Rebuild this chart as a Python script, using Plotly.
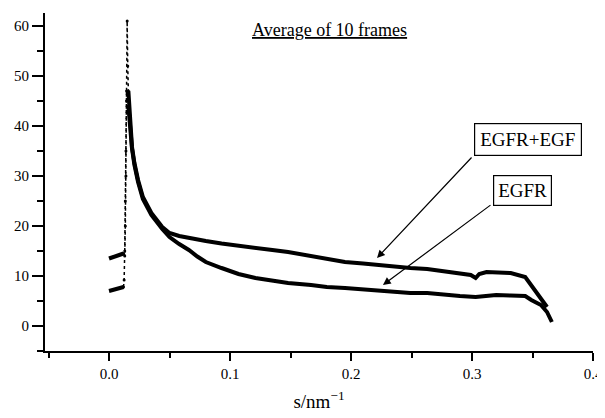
import plotly.graph_objects as go

# ---- data ----
s_egf = [0.000, 0.004, 0.008, 0.012, 0.0130, 0.0135, 0.0140, 0.0145, 0.0150,
         0.0155, 0.0160, 0.017, 0.018, 0.019, 0.021, 0.024, 0.028, 0.035, 0.044,
         0.050, 0.058, 0.066, 0.080, 0.093, 0.110, 0.121, 0.135, 0.148, 0.167,
         0.180, 0.195, 0.210, 0.222, 0.235, 0.249, 0.263, 0.277, 0.290, 0.299,
         0.303, 0.306, 0.312, 0.322, 0.332, 0.344, 0.347, 0.350, 0.357, 0.362]
i_egf = [13.5, 13.8, 14.2, 14.5, 14.0, 20.0, 30.0, 45.0, 61.0,
         52.0, 47.0, 42.0, 39.0, 35.8, 32.6, 29.2, 25.8, 22.6, 19.8,
         18.6, 18.0, 17.6, 17.0, 16.5, 15.9, 15.6, 15.2, 14.8, 14.0,
         13.4, 12.8, 12.5, 12.2, 11.9, 11.6, 11.4, 11.0, 10.6, 10.2,
         9.6, 10.4, 10.8, 10.8, 10.6, 9.8, 8.8, 7.6, 5.2, 3.8]

s_egfr = [0.000, 0.004, 0.008, 0.012, 0.0125, 0.0130, 0.0135, 0.0140, 0.0145,
          0.016, 0.017, 0.018, 0.019, 0.021, 0.024, 0.028, 0.035, 0.044,
          0.050, 0.058, 0.066, 0.073, 0.080, 0.093, 0.107, 0.121, 0.135, 0.148,
          0.167, 0.180, 0.195, 0.210, 0.222, 0.235, 0.249, 0.263, 0.277, 0.290,
          0.303, 0.312, 0.320, 0.332, 0.344, 0.349, 0.357, 0.362, 0.366]
i_egfr = [7.0, 7.2, 7.5, 7.8, 9.2, 15.0, 25.0, 35.0, 47.0,
          44.0, 41.0, 38.5, 35.5, 32.2, 28.8, 25.4, 22.2, 19.4,
          17.8, 16.4, 15.2, 13.9, 12.8, 11.6, 10.4, 9.6, 9.0, 8.6,
          8.2, 7.8, 7.6, 7.3, 7.2, 6.9, 6.6, 6.6, 6.2, 6.0,
          5.8, 6.0, 6.2, 6.1, 6.0, 5.2, 4.2, 2.8, 0.8]

x_ticks = [0.0, 0.1, 0.2, 0.3, 0.4]
x_tick_labels = ["0.0", "0.1", "0.2", "0.3", "0.4"]
y_ticks = [0, 10, 20, 30, 40, 50, 60]
y_tick_labels = ["0", "10", "20", "30", "40", "50", "60"]

title_text = "Average of 10 frames"
label_egf = "EGFR+EGF"
label_egfr = "EGFR"

# segment split indices: flat start | thin rise + peak | thick decay
egf_rise, egf_decay = 3, 10
egfr_rise, egfr_decay = 3, 9

FONT = "Liberation Serif, Times New Roman, serif"
fig = go.Figure()


def add_curve(s, v, i_rise, i_decay):
    thick = dict(color="black", width=4)
    thin = dict(color="black", width=1.5, dash="dot")
    fig.add_trace(go.Scatter(x=s[:i_rise + 1], y=v[:i_rise + 1], mode="lines",
                             line=thick, showlegend=False, hoverinfo="skip"))
    fig.add_trace(go.Scatter(x=s[i_rise:i_decay + 1], y=v[i_rise:i_decay + 1],
                             mode="lines+markers", line=thin,
                             marker=dict(size=3, color="black"),
                             showlegend=False, hoverinfo="skip"))
    fig.add_trace(go.Scatter(x=s[i_decay:], y=v[i_decay:], mode="lines",
                             line=thick, showlegend=False, hoverinfo="skip"))


add_curve(s_egf, i_egf, egf_rise, egf_decay)
add_curve(s_egfr, i_egfr, egfr_rise, egfr_decay)

# title inside plot
fig.add_annotation(x=0.1826, y=59.2, xref="x", yref="y", text="<u>" + title_text + "</u>",
                   showarrow=False, font=dict(family=FONT, size=18, color="black"))

# labelled boxes
fig.add_annotation(x=0.3463, y=37.3, xref="x", yref="y", text=label_egf, showarrow=False,
                   font=dict(family=FONT, size=19, color="black"),
                   bordercolor="black", borderwidth=1.2, borderpad=5, bgcolor="white")
fig.add_annotation(x=0.342, y=27.2, xref="x", yref="y", text=label_egfr, showarrow=False,
                   font=dict(family=FONT, size=19, color="black"),
                   bordercolor="black", borderwidth=1.2, borderpad=4, bgcolor="white")

# arrows (from box corners to curves)
fig.add_annotation(x=0.2215, y=13.6, ax=0.3008, ay=34.0, xref="x", yref="y",
                   axref="x", ayref="y", text="", showarrow=True,
                   arrowhead=2, arrowsize=1.3, arrowwidth=1.2, arrowcolor="black")
fig.add_annotation(x=0.2264, y=8.2, ax=0.3165, ay=24.4, xref="x", yref="y",
                   axref="x", ayref="y", text="", showarrow=True,
                   arrowhead=2, arrowsize=1.3, arrowwidth=1.2, arrowcolor="black")

fig.update_xaxes(range=[-0.0529, 0.4], showgrid=False, zeroline=False, automargin=False,
                 showline=True, linecolor="black", linewidth=2,
                 tickmode="array", tickvals=x_ticks, ticktext=x_tick_labels,
                 ticklabeloverflow="allow",
                 ticks="outside", ticklen=8, tickwidth=2, tickcolor="black",
                 minor=dict(dtick=0.05, tick0=0, ticks="outside", ticklen=5,
                            tickwidth=1.5, tickcolor="black"),
                 tickfont=dict(family=FONT, size=15, color="black"),
                 title=dict(text="s/nm<sup>\u22121</sup>",
                            font=dict(family=FONT, size=19, color="black"),
                            standoff=14))
fig.update_yaxes(range=[-5, 62.6], showgrid=False, zeroline=False, automargin=False,
                 showline=True, linecolor="black", linewidth=2,
                 tickmode="array", tickvals=y_ticks, ticktext=y_tick_labels,
                 ticks="outside", ticklen=11, tickwidth=2, tickcolor="black",
                 minor=dict(dtick=5, tick0=0, ticks="outside", ticklen=6,
                            tickwidth=1.5, tickcolor="black"),
                 tickfont=dict(family=FONT, size=15, color="black"))

# page body has an 8px default margin; size the figure so it fits the window exactly
fig.update_layout(width=597, height=410, margin=dict(l=37, r=12, t=5, b=67),
                  plot_bgcolor="white", paper_bgcolor="white", showlegend=False)

fig.write_html("out.html")
